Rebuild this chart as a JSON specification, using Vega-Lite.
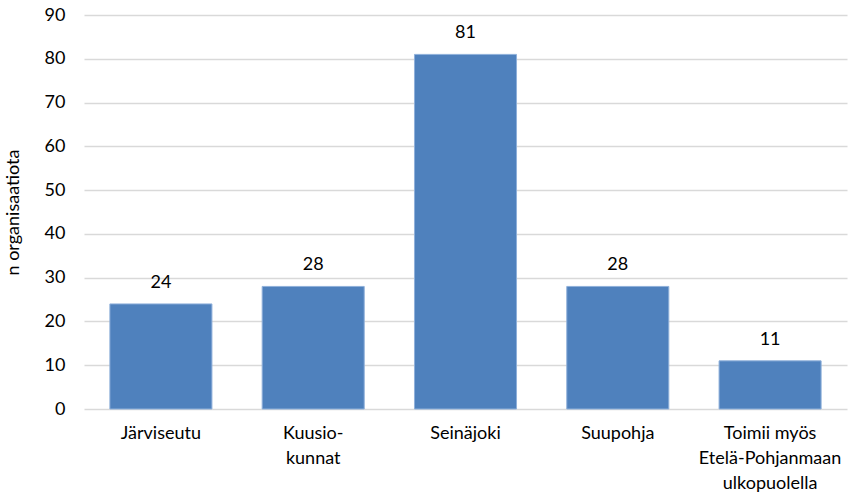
{
  "$schema": "https://vega.github.io/schema/vega-lite/v6.json",
  "width": 763,
  "height": 394,
  "autosize": {"type": "none"},
  "padding": {"left": 84, "top": 15, "right": 7, "bottom": 89},
  "background": "white",
  "config": {
    "view": {"stroke": null},
    "font": "Lato"
  },
  "data": {
    "values": [
      {"alue": "Järviseutu", "n": 24},
      {"alue": "Kuusio-|kunnat", "n": 28},
      {"alue": "Seinäjoki", "n": 81},
      {"alue": "Suupohja", "n": 28},
      {"alue": "Toimii myös|Etelä-Pohjanmaan|ulkopuolella", "n": 11}
    ]
  },
  "encoding": {
    "x": {
      "field": "alue",
      "type": "nominal",
      "sort": null,
      "scale": {"paddingInner": 0.33, "paddingOuter": 0.17},
      "axis": {
        "title": null,
        "labelAngle": 0,
        "labelExpr": "split(datum.label, '|')",
        "labelFontSize": 18,
        "labelColor": "#000000",
        "labelLineHeight": 25,
        "labelPadding": 15,
        "ticks": false,
        "domain": false,
        "labelBaseline": "top"
      }
    },
    "y": {
      "field": "n",
      "type": "quantitative",
      "scale": {"domain": [0, 90]},
      "axis": {
        "title": "n organisaatiota",
        "titleFontSize": 18,
        "titleFontWeight": "normal",
        "titleColor": "#000000",
        "titlePadding": 22,
        "values": [0, 10, 20, 30, 40, 50, 60, 70, 80, 90],
        "labelFontSize": 18,
        "labelColor": "#000000",
        "labelPadding": 19,
        "ticks": false,
        "domain": false,
        "gridColor": "#d9d9d9",
        "gridWidth": 1.5
      }
    }
  },
  "layer": [
    {
      "mark": {"type": "bar", "color": "#4f81bd", "stroke": "#8fb0da", "strokeWidth": 1}
    },
    {
      "mark": {"type": "text", "baseline": "bottom", "dy": -12, "fontSize": 18, "color": "#000000"},
      "encoding": {"text": {"field": "n", "type": "quantitative"}}
    }
  ]
}
